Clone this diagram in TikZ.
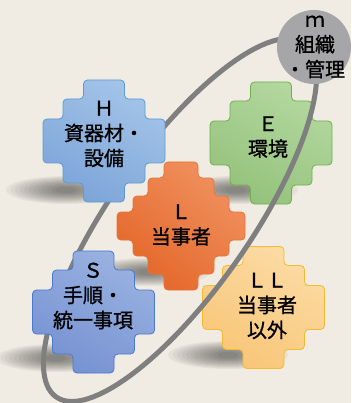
\documentclass[tikz,border=0pt]{standalone}
\usepackage{fontspec}
\setmainfont{Noto Sans CJK JP}[FakeBold=1.1]
\definecolor{bg}{HTML}{F0ECE3}
\definecolor{ringgray}{HTML}{7F7F80}
\definecolor{circgray}{HTML}{A6A6A9}
\definecolor{hA}{HTML}{A4C4E9}\definecolor{hB}{HTML}{7DA5D8}\definecolor{hD}{HTML}{5B9BD5}
\definecolor{eA}{HTML}{B4D8A0}\definecolor{eB}{HTML}{94C27B}\definecolor{eD}{HTML}{6FB04A}
\definecolor{sA}{HTML}{9AB2E1}\definecolor{sB}{HTML}{7692D2}\definecolor{sD}{HTML}{4A78CC}
\definecolor{lA}{HTML}{FCDBA4}\definecolor{lB}{HTML}{F8C678}\definecolor{lD}{HTML}{F6BA30}
\definecolor{oA}{HTML}{F0915F}\definecolor{oB}{HTML}{E4672A}\definecolor{oD}{HTML}{E8733A}
\tikzset{
  txt/.style={align=center, font=\fontsize{20}{25}\selectfont, text=black, inner sep=0pt},
  puzzle/.style={rounded corners=4pt, line width=0.8pt},
  ring/.style={draw=ringgray, line width=5pt},
}
\newcommand{\stairIII}[2]{%
  \path[puzzle,#1] (-20.5,-61) -- (20.5,-61) -- (20.5,-42) -- (41,-42) -- (41,-22) -- (61,-22)
    -- (61,22) -- (41,22) -- (41,42) -- (20.5,42) -- (20.5,61) -- (-20.5,61) -- (-20.5,42)
    -- (-41,42) -- (-41,22) -- (-61,22) -- (-61,-22) -- (-41,-22) -- (-41,-42) -- (-20.5,-42) -- cycle;}
\newcommand{\blob}[4]{%
  \foreach \k in {0,...,11}{\fill[black, opacity=0.045] (#1,#2) ellipse ({(#3)*(1-0.075*\k)*1pt} and {(#4)*(1-0.07*\k)*1pt});}}
\begin{document}
\begin{tikzpicture}[x=1pt,y=-1pt]
\useasboundingbox (0,0) rectangle (351,403);
\fill[bg] (0,0) rectangle (351,403);
% shadows
\blob{66}{190}{60}{14}
\blob{236}{190}{62}{14}
\blob{148}{272}{62}{14}
\blob{56}{358}{60}{14}
\blob{228}{355}{60}{14}
% shapes under the ring
\stairIII{draw=eD, top color=eA, bottom color=eB, shading angle=-30, shift={(271,143)}}{}
\stairIII{draw=lD, top color=lA, bottom color=lB, shading angle=-30, shift={(263.5,307.5)}}{}
% ring
\draw[ring, rotate around={55:(180,220)}] (180,220) ellipse (216pt and 70pt);
% shapes over the ring
\stairIII{draw=hD, top color=hA, bottom color=hB, shading angle=-30, shift={(104,141)}}{}
\stairIII{draw=sD, top color=sA, bottom color=sB, shading angle=-30, shift={(93.5,312)}}{}
\path[puzzle, draw=oD, top color=oA, bottom color=oB, shading angle=-40, shift={(181,226)}]
  (-17,-64) -- (17,-64) -- (17,-48) -- (33,-48) -- (33,-30) -- (48,-30) -- (48,-14) -- (64,-14)
  -- (64,14) -- (48,14) -- (48,30) -- (33,30) -- (33,48) -- (17,48) -- (17,64) -- (-17,64)
  -- (-17,48) -- (-33,48) -- (-33,30) -- (-48,30) -- (-48,14) -- (-64,14) -- (-64,-14)
  -- (-48,-14) -- (-48,-30) -- (-33,-30) -- (-33,-48) -- (-17,-48) -- cycle;
% circle
\fill[circgray] (314,47) circle (37pt);
% texts
\node[txt] (h) at (104,134) {Ｈ\\資器材・\\設備};
\node[txt] (e) at (268,137) {Ｅ\\環境};
\node[txt] (l) at (181,225) {Ｌ\\当事者};
\node[txt] (s) at (93,296) {Ｓ\\手順・\\統一事項};
\node[txt] (ll) at (267,306) {ＬＬ\\当事者\\以外};
\node[txt] (m) at (315,47) {ｍ\\組織\\・管理};
\end{tikzpicture}
\end{document}
